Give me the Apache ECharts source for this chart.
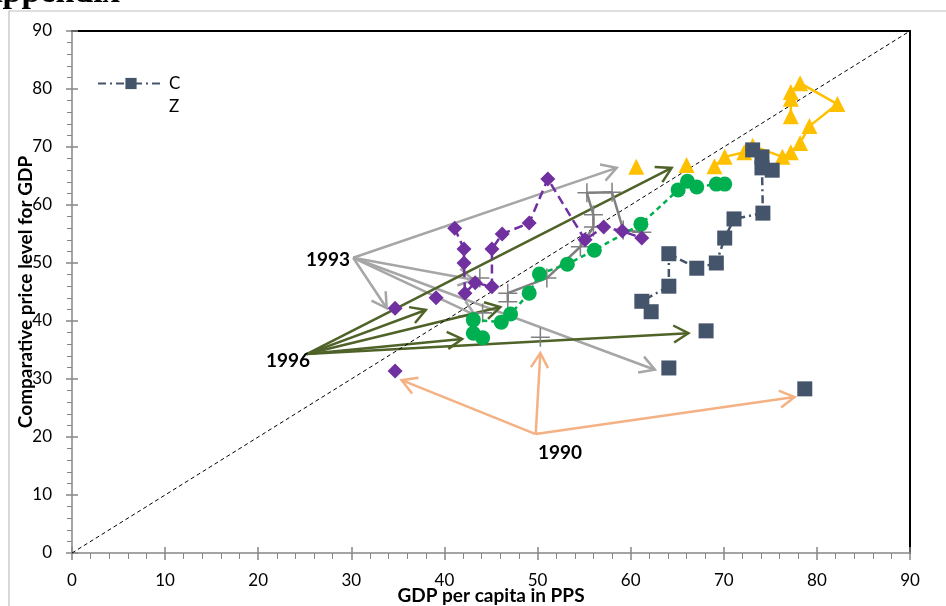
<!DOCTYPE html>
<html>
<head>
<meta charset="utf-8">
<script src="https://cdn.jsdelivr.net/npm/echarts@6/dist/echarts.min.js"></script>
<style>
html,body{margin:0;padding:0;background:#fff;}
#chart{width:946px;height:606px;}
</style>
</head>
<body>
<div id="chart"></div>
<script>
// ---- axis ticks ----
var xTicks = [0, 10, 20, 30, 40, 50, 60, 70, 80, 90];
var yTicks = [0, 10, 20, 30, 40, 50, 60, 70, 80, 90];

// ---- series values [GDP per capita in PPS, comparative price level] (null = gap) ----
var seriesCZ = [[78.7,28.3], null, [64.1,31.9], null, [68.1,38.3], null,
  [62.2,41.6], [61.2,43.4], [64.1,46.0], [64.1,51.6], [67.1,49.1], [69.2,50.0],
  [70.1,54.3], [71.1,57.6], [74.2,58.6], [74.1,66.4], [75.2,66.0], [74.1,68.3], [73.1,69.5]];
var seriesYellow = [[60.6,66.6], null, [66.0,66.9], null, [69.0,66.7], [70.1,68.3],
  [72.2,69.1], [73.1,70.2], [76.3,68.3], [77.2,69.1], [78.2,70.7], [79.2,73.6],
  [82.2,77.4], [78.2,81.0], [77.2,79.5], [77.2,78.3], [77.2,75.3]];
var seriesPurple = [[34.7,31.4], null, [34.7,42.2], null, [39.1,44.0], null,
  [41.1,56.0], [42.1,52.4], [42.1,50.0], [42.2,44.8], [43.3,46.6], [45.1,45.9],
  [45.1,52.4], [46.2,55.0], [49.1,56.9], [51.1,64.5], [55.1,54.0], [57.1,56.2],
  [59.1,55.5], [61.2,54.3]];
var seriesGreen = [[43.1,37.9], null, [44.1,37.1], null,
  [43.1,40.2], [46.1,39.8], [47.1,41.2], [49.1,44.8], [50.2,48.1], [53.2,49.8],
  [56.1,52.2], [61.1,56.7], [65.1,62.6], [66.1,64.1], [67.1,63.1], [69.2,63.6], [70.1,63.6]];
var seriesGray = [[50.3,37.2], null, [43.8,47.4], null, [44.1,41.4], null,
  [46.8,43.3], [46.8,44.8], [51.0,47.4], [54.6,52.8], [56.0,56.2], [56.0,58.3],
  [55.3,62.1], [58.0,62.2], [59.2,55.7], [61.2,55.3]];
var diagonal = [[0,0],[90,90]];

// ---- annotation arrows: origin and targets ----
var origin1990 = [49.8, 20.5];
var targets1990 = [[35.4,29.8], [50.3,34.5], [77.6,26.9]];
var origin1993 = [30.2, 50.9];
var targets1993 = [[58.5,66.4], [33.8,42.2], [43.1,47.1], [43.3,41.0], [62.6,31.6]];
var origin1996 = [25.2, 34.3];
var targets1996 = [[64.4,66.4], [38.0,41.9], [46.0,42.4], [41.9,36.9], [66.2,37.9]];

function arrowData(o, ts){ return ts.map(function(t){ return [o[0], o[1], t[0], t[1]]; }); }

function arrowRender(color){
  return function(params, api){
    var p1 = api.coord([api.value(0), api.value(1)]);
    var p2 = api.coord([api.value(2), api.value(3)]);
    var ang = Math.atan2(p2[1]-p1[1], p2[0]-p1[0]);
    var L = 17, a = Math.PI/6;
    var h1 = [p2[0]-L*Math.cos(ang-a), p2[1]-L*Math.sin(ang-a)];
    var h2 = [p2[0]-L*Math.cos(ang+a), p2[1]-L*Math.sin(ang+a)];
    return {type:'group', children:[
      {type:'line', shape:{x1:p1[0],y1:p1[1],x2:p2[0],y2:p2[1]}, style:{stroke:color, lineWidth:2.5}},
      {type:'polyline', shape:{points:[h1,p2,h2]}, style:{stroke:color, lineWidth:2.5, fill:null}}
    ]};
  };
}
function arrowSeries(o, ts, color){
  return {type:'custom', renderItem: arrowRender(color), data: arrowData(o, ts),
    encode:{x:[0,2], y:[1,3]}, silent:true, z:1};
}

var plusPath = 'path://M0,9.2H20V10.8H0Z M9.2,0H10.8V20H9.2Z';
var font = 'Lato, "DejaVu Sans", sans-serif';
var axisGray = '#868686';

function baseXAxis(){
  return {type:'value', min:0, max:90, interval:10, position:'bottom'};
}

var chart = echarts.init(document.getElementById('chart'));
chart.setOption({
  animation:false,
  backgroundColor:'#fff',
  grid:{left:72, right:36, top:31, bottom:53, containLabel:false, outerBoundsMode:'none'},
  legend:{
    left:92, top:70, itemWidth:66, itemHeight:14, itemGap:4, data:['CZ'],
    formatter:function(){ return 'C'; },
    textStyle:{fontFamily:font, fontSize:17, color:'#000', padding:[0,0,0,0]}
  },
  xAxis:[
    Object.assign(baseXAxis(), {
      name:'GDP per capita in PPS', nameLocation:'middle', nameGap:33, nameMoveOverlap:false,
      nameTextStyle:{fontFamily:font, fontSize:19, fontWeight:'bold', color:'#000'},
      axisLine:{show:true, onZero:false, lineStyle:{color:axisGray, width:1.5}},
      axisTick:{show:true, length:7, lineStyle:{color:axisGray, width:1.5}},
      minorTick:{show:true, splitNumber:5, length:6, lineStyle:{color:axisGray, width:1}},
      axisLabel:{fontFamily:font, fontSize:17, color:'#000', margin:19,
        customValues:xTicks},
      splitLine:{show:false}
    }),
    Object.assign(baseXAxis(), {
      position:'top',
      axisLine:{show:true, onZero:false, lineStyle:{color:'#000', width:2}},
      axisTick:{show:false}, axisLabel:{show:false}, splitLine:{show:false}
    }),
    Object.assign(baseXAxis(), {
      position:'bottom',
      axisLine:{show:false, onZero:false},
      axisTick:{show:true, inside:true, length:6, lineStyle:{color:axisGray, width:1.5}},
      axisLabel:{show:false}, splitLine:{show:false}
    })
  ],
  yAxis:[
    {type:'value', min:0, max:90, interval:10, position:'left',
      name:'Comparative price level for GDP', nameLocation:'middle', nameGap:37, nameMoveOverlap:false,
      nameTextStyle:{fontFamily:font, fontSize:19, fontWeight:'bold', color:'#000'},
      axisLine:{show:true, onZero:false, lineStyle:{color:axisGray, width:1.5}},
      axisTick:{show:true, length:6, lineStyle:{color:axisGray, width:1.5}},
      minorTick:{show:true, splitNumber:5, length:5, lineStyle:{color:axisGray, width:1}},
      axisLabel:{fontFamily:font, fontSize:17, color:'#000', margin:20, customValues:yTicks},
      splitLine:{show:false}},
    {type:'value', min:0, max:90, interval:10, position:'right',
      axisLine:{show:true, onZero:false, lineStyle:{color:'#000', width:2}},
      axisTick:{show:false}, axisLabel:{show:false}, splitLine:{show:false}},
    {type:'value', min:0, max:90, interval:10, position:'left',
      axisLine:{show:false, onZero:false},
      axisTick:{show:true, inside:true, length:6, lineStyle:{color:axisGray, width:1.5}},
      axisLabel:{show:false}, splitLine:{show:false}}
  ],
  graphic:[
    {type:'rect', shape:{x:9, y:11, width:1000, height:700}, style:{fill:null, stroke:'#BFBFBF', lineWidth:1.2}, silent:true, z:-10},
    {type:'text', x:-22, y:-7, style:{text:'Appendix', font:'bold 34px "Liberation Serif", "DejaVu Serif", serif', fill:'#000', textVerticalAlign:'middle'}, silent:true},
    {type:'text', x:169, y:107, style:{text:'Z', font:'17px '+font, fill:'#000', textVerticalAlign:'middle'}, silent:true},
    {type:'text', x:328, y:260, style:{text:'1993', font:'bold 19px '+font, fill:'#000', textAlign:'center', textVerticalAlign:'middle'}, silent:true, z:20},
    {type:'text', x:288, y:361, style:{text:'1996', font:'bold 19px '+font, fill:'#000', textAlign:'center', textVerticalAlign:'middle'}, silent:true, z:20},
    {type:'text', x:560, y:453, style:{text:'1990', font:'bold 19px '+font, fill:'#000', textAlign:'center', textVerticalAlign:'middle'}, silent:true, z:20}
  ],
  series:[
    {type:'line', name:'diag', data:diagonal, symbol:'none', silent:true, z:1,
      lineStyle:{color:'#000', width:1, type:[4,3]}},
    arrowSeries(origin1993, targets1993, '#A6A6A6'),
    arrowSeries(origin1996, targets1996, '#4F6228'),
    arrowSeries(origin1990, targets1990, '#F4B183'),
    {type:'line', name:'gray', data:seriesGray, symbol:plusPath, symbolSize:19, z:3,
      itemStyle:{color:'#808080'}, lineStyle:{color:'#808080', width:2.5}, connectNulls:false},
    {type:'line', name:'green', data:seriesGreen, symbol:'circle', symbolSize:15, z:4,
      itemStyle:{color:'#00B050'}, lineStyle:{color:'#00B050', width:2.5, type:[5,4]}, connectNulls:false},
    {type:'line', name:'purple', data:seriesPurple, symbol:'diamond', symbolSize:15, z:5,
      itemStyle:{color:'#7030A0'}, lineStyle:{color:'#7030A0', width:2.5, type:[9,5]}, connectNulls:false},
    {type:'line', name:'yellow', data:seriesYellow, symbol:'triangle', symbolSize:16, z:5,
      itemStyle:{color:'#FFC000'}, lineStyle:{color:'#FFC000', width:2.5}, connectNulls:false},
    {type:'line', name:'CZ', data:seriesCZ, symbol:'rect', symbolSize:15, z:6,
      itemStyle:{color:'#44546A'}, lineStyle:{color:'#44546A', width:2.5, type:[8,4,2,4]}, connectNulls:false}
  ]
});
</script>
</body>
</html>
